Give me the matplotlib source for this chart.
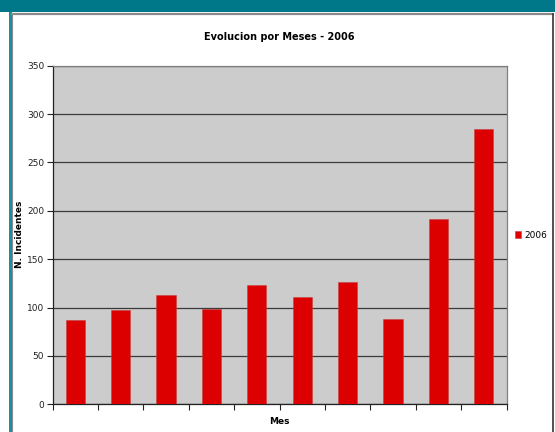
import matplotlib.pyplot as plt
from matplotlib.patches import Rectangle
from matplotlib.lines import Line2D
import numpy as np

# monthly incident counts
meses = ['1', '2', '3', '4', '5', '6', '7', '8', '9', '10']
incidentes = [87, 97, 113, 98, 123, 111, 126, 88, 192, 285]
serie = '2006'

W, H = 555, 432
fig = plt.figure(figsize=(W / 100, H / 100), dpi=100)
fig.patch.set_facecolor('white')

# page decoration: teal header, left border, gray frame
fig.patches.append(Rectangle((0, 1 - 12.4 / H), 1, 12.4 / H, transform=fig.transFigure,
                             facecolor='#00788a', edgecolor='none', zorder=0))
fig.patches.append(Rectangle((8.9 / W, 0), 2.9 / W, 1 - 12.4 / H, transform=fig.transFigure,
                             facecolor='#1a8fa0', edgecolor='none', zorder=0))
fig.lines.append(Line2D([11.8 / W, 552.5 / W], [1 - 14.2 / H, 1 - 14.2 / H], transform=fig.transFigure,
                        color='#8a8a8a', lw=1.6))
fig.lines.append(Line2D([552.5 / W, 552.5 / W], [0, 1 - 14.2 / H], transform=fig.transFigure,
                        color='#333333', lw=1.2))
fig.lines.append(Line2D([12.3 / W, 12.3 / W], [0, 1 - 14.2 / H], transform=fig.transFigure,
                        color='#8a8a8a', lw=0.8))

ax = fig.add_axes([52.5 / W, 1 - 404.3 / H, 454 / W, 338.6 / H])
ax.set_facecolor('#cccccc')

x = np.arange(len(meses))
ax.bar(x, incidentes, width=0.42, color='#dd0000', edgecolor='#c84040', linewidth=0.4,
       label=serie, zorder=3)

ax.set_xlim(-0.5, len(meses) - 0.5)
ax.set_ylim(0, 350)
ax.set_yticks(np.arange(0, 351, 50))
ax.set_xticks(np.arange(-0.5, len(meses), 1))
ax.set_xticklabels([])
ax.tick_params(axis='y', labelsize=6.5, length=4, width=0.8, pad=2, colors='#222222')
ax.tick_params(axis='x', length=4, width=0.8, colors='#222222')
ax.grid(axis='y', color='#3a3a3a', linewidth=0.9, zorder=1)

for s in ['left', 'bottom']:
    ax.spines[s].set_color('#222222')
    ax.spines[s].set_linewidth(0.9)
for s in ['top', 'right']:
    ax.spines[s].set_color('#808080')
    ax.spines[s].set_linewidth(0.9)

# titles placed at their pixel positions
fig.text(279 / W, 1 - 37 / H, 'Evolucion por Meses - 2006', fontsize=7, fontweight='bold',
         ha='center', va='center')
fig.text(279 / W, 1 - 422 / H, 'Mes', fontsize=6.5, fontweight='bold', ha='center', va='center')
fig.text(20 / W, 1 - 234 / H, 'N. Incidentes', fontsize=6.5, fontweight='bold', rotation=90,
         ha='center', va='center')

ax.legend(loc='center left', bbox_to_anchor=(1.005, 0.5), frameon=False, fontsize=6.5,
          handlelength=0.7, handleheight=0.7, handletextpad=0.3, borderaxespad=0.3)

fig.savefig('out.png', dpi=100)
